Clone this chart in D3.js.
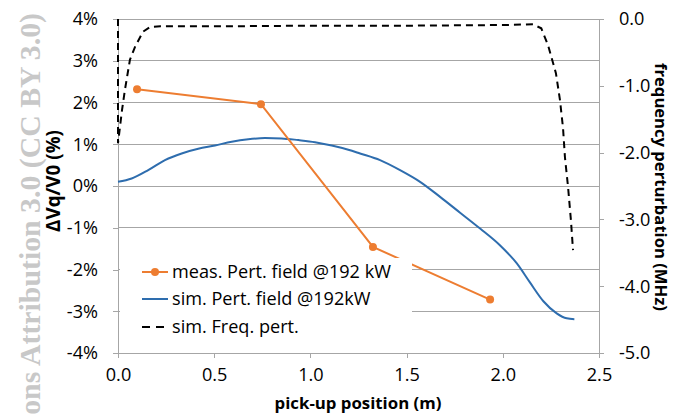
<!DOCTYPE html>
<html><head><meta charset="utf-8">
<script src="https://cdn.jsdelivr.net/npm/d3@7"></script>
<style>
body{margin:0;background:#fff;}
svg text{font-family:"Open Sans",Lato,sans-serif;}
</style></head>
<body><svg id="c" width="675" height="416"></svg>
<script>
// ---- data ----
const xTicks = [0, 0.5, 1.0, 1.5, 2.0, 2.5];
const yLeftTicks = [4, 3, 2, 1, 0, -1, -2, -3, -4];
const yRightTicks = [0, -1, -2, -3, -4, -5];

const measX = [0.099, 0.743, 1.325, 1.934];
const measY = [2.32, 1.96, -1.46, -2.72];

const simX = [0, 0.071, 0.157, 0.244, 0.331, 0.417, 0.504, 0.591, 0.677, 0.764, 0.851, 0.937, 1.024, 1.111, 1.197, 1.258, 1.362, 1.466, 1.570, 1.674, 1.778, 1.882, 1.985, 2.072, 2.141, 2.211, 2.280, 2.332, 2.372];
const simY = [0.10, 0.18, 0.38, 0.62, 0.78, 0.89, 0.97, 1.06, 1.12, 1.15, 1.14, 1.10, 1.05, 0.97, 0.87, 0.78, 0.62, 0.38, 0.10, -0.26, -0.64, -1.02, -1.42, -1.85, -2.31, -2.76, -3.05, -3.17, -3.19];

const freqX = [0, 0, 0.021, 0.036, 0.062, 0.088, 0.13, 0.166, 0.22, 0.5, 1.0, 1.5, 2.0, 2.157, 2.2, 2.235, 2.276, 2.297, 2.313, 2.323, 2.339, 2.354, 2.365];
const freqY = [0, -1.86, -1.36, -1.06, -0.61, -0.42, -0.19, -0.12, -0.11, -0.11, -0.1, -0.1, -0.09, -0.08, -0.14, -0.39, -0.81, -1.21, -1.63, -2.07, -2.51, -3.01, -3.46];

const legendLabels = ["meas. Pert. field @192 kW", "sim. Pert. field @192kW", "sim. Freq. pert."];

// ---- layout ----
const L = 118, R = 599, T = 19, B = 353;
const svg = d3.select("#c");
const x = d3.scaleLinear().domain([0, 2.5]).range([L, R]);
const yL = d3.scaleLinear().domain([-4, 4]).range([B, T]);
const yR = d3.scaleLinear().domain([-5, 0]).range([B, T]);
const axisCol = "#a6a6a6", gridCol = "#a6a6a6";
const orange = "#ED7D31", blue = "#2E6DAE";

// fit a text element's font-size so its rendered length matches a target
function fitSize(sel, target){
  const n = sel.node();
  const base = parseFloat(sel.style("font-size"));
  const w = n.getComputedTextLength();
  return base * target / w;
}

// watermark
const wm = svg.append("text")
  .attr("transform", "translate(40,13) rotate(-90)")
  .attr("text-anchor", "end")
  .style("font-family", "'Liberation Serif','DejaVu Serif',serif")
  .style("font-weight", "bold")
  .style("font-size", "24px")
  .attr("fill", "#c8c8c8")
  .text("ons Attribution 3.0 (CC BY 3.0)");
wm.style("font-size", fitSize(wm, 402) + "px");

// gridlines
svg.append("g").selectAll("line").data(yLeftTicks).join("line")
  .attr("x1", L).attr("x2", R)
  .attr("y1", d => yL(d)).attr("y2", d => yL(d))
  .attr("stroke", gridCol).attr("stroke-width", 1).attr("shape-rendering", "crispEdges");

// legend text size (fit to reference width), reused for tick labels
const probe = svg.append("text").style("font-size", "18px").text(legendLabels[0]);
const fs = fitSize(probe, 219);
probe.remove();

function styleAxis(g){
  g.selectAll("path,line").attr("stroke", axisCol).attr("stroke-width", 1).attr("shape-rendering", "crispEdges");
  g.selectAll("text").attr("fill", "#000").style("font-size", fs + "px").style("font-family", "'Open Sans',sans-serif");
}
const gx = svg.append("g").attr("transform", `translate(0,${B})`)
  .call(d3.axisBottom(x).tickValues(xTicks).tickSize(5).tickSizeOuter(0).tickPadding(10).tickFormat(d3.format(".1f")));
styleAxis(gx);
const gl = svg.append("g").attr("transform", `translate(${L},0)`)
  .call(d3.axisLeft(yL).tickValues(yLeftTicks).tickSize(5).tickSizeOuter(0).tickPadding(15).tickFormat(d => d + "%"));
styleAxis(gl);
gl.selectAll("text").text(d => String(d) + "%");
const gr = svg.append("g").attr("transform", `translate(${R},0)`)
  .call(d3.axisRight(yR).tickValues(yRightTicks).tickSize(5).tickSizeOuter(0).tickPadding(15).tickFormat(d3.format(".1f")));
styleAxis(gr);
gr.selectAll("text").text(d => d === 0 ? "0.0" : d.toFixed(1));

// series
const freqLine = d3.line().x(d => x(d[0])).y(d => yR(d[1]));
svg.append("path").datum(freqX.map((v, i) => [v, freqY[i]]))
  .attr("d", freqLine).attr("fill", "none").attr("stroke", "#000")
  .attr("stroke-width", 2).attr("stroke-dasharray", "7,5");

const simLine = d3.line().x(d => x(d[0])).y(d => yL(d[1])).curve(d3.curveMonotoneX);
svg.append("path").datum(simX.map((v, i) => [v, simY[i]]))
  .attr("d", simLine).attr("fill", "none").attr("stroke", blue).attr("stroke-width", 2);

const measLine = d3.line().x(d => x(d[0])).y(d => yL(d[1]));
const meas = measX.map((v, i) => [v, measY[i]]);
svg.append("path").datum(meas).attr("d", measLine).attr("fill", "none")
  .attr("stroke", orange).attr("stroke-width", 2);
svg.append("g").selectAll("circle").data(meas).join("circle")
  .attr("cx", d => x(d[0])).attr("cy", d => yL(d[1])).attr("r", 4).attr("fill", orange);

// legend
const lg = svg.append("g");
lg.append("rect").attr("x", 120).attr("y", 258).attr("width", 292).attr("height", 82).attr("fill", "#fff");
const ly = [272, 299, 327];
lg.append("line").attr("x1", 142).attr("x2", 168).attr("y1", ly[0]).attr("y2", ly[0]).attr("stroke", orange).attr("stroke-width", 2);
lg.append("circle").attr("cx", 155).attr("cy", ly[0]).attr("r", 4).attr("fill", orange);
lg.append("line").attr("x1", 142).attr("x2", 168).attr("y1", ly[1]).attr("y2", ly[1]).attr("stroke", blue).attr("stroke-width", 2);
lg.append("line").attr("x1", 142).attr("x2", 164).attr("y1", ly[2]).attr("y2", ly[2]).attr("stroke", "#000").attr("stroke-width", 2).attr("stroke-dasharray", "8,6");
lg.selectAll("text").data(legendLabels).join("text")
  .attr("x", 172).attr("y", (d, i) => ly[i]).attr("dy", "0.35em")
  .style("font-size", fs + "px").attr("fill", "#000").text(d => d);

// axis titles
function title(t, tr, target){
  const s = svg.append("text").attr("transform", tr).attr("text-anchor", "middle")
    .style("font-weight", "bold").style("font-size", "16px").attr("fill", "#000").text(t);
  s.style("font-size", fitSize(s, target) + "px");
  return s;
}
title("pick-up position (m)", "translate(358,409)", 167);
title("ΔVq/V0 (%)", "translate(60,181) rotate(-90)", 102);
title("frequency perturbation (MHz)", "translate(655,187) rotate(90)", 248);
</script></body></html>
